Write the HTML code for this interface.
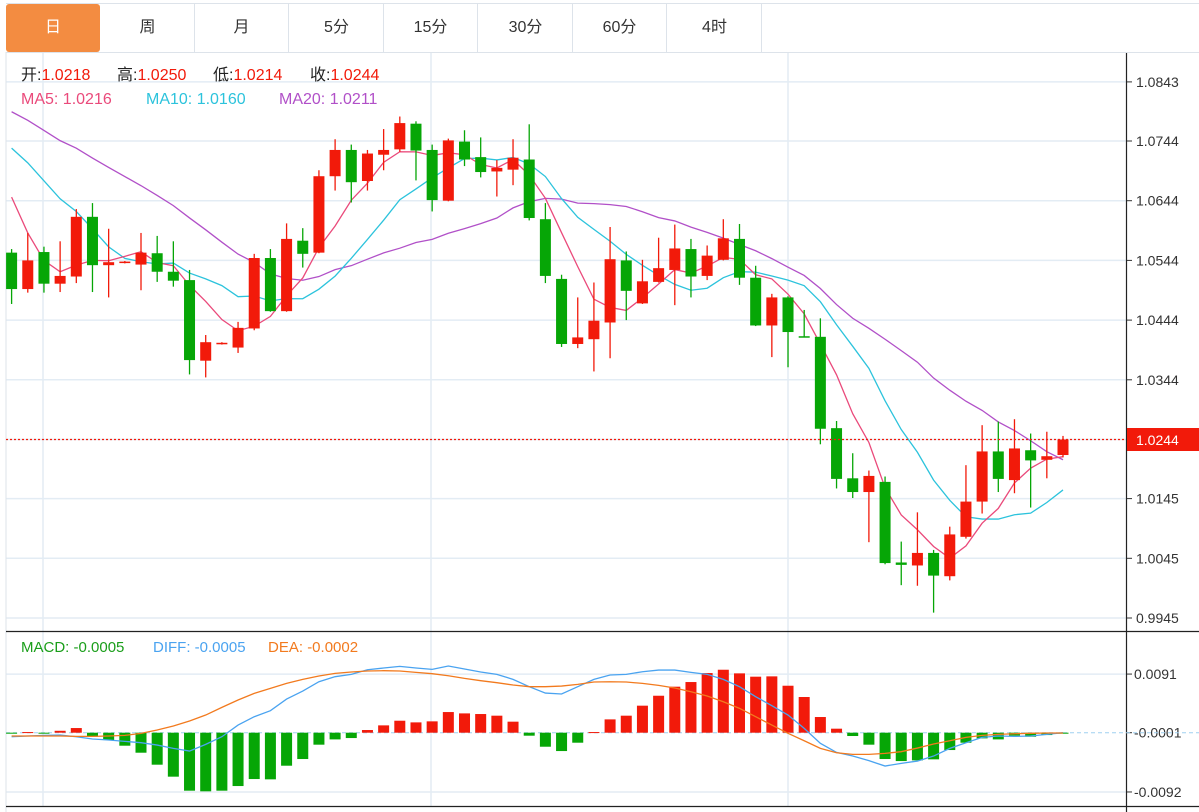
<!DOCTYPE html>
<html><head><meta charset="utf-8">
<style>
html,body{margin:0;padding:0;background:#fff;width:1199px;height:812px;overflow:hidden;font-family:"Liberation Sans","Noto Sans CJK SC",sans-serif;}
#tabs{position:absolute;left:6px;top:3px;width:1193px;height:48px;border-top:1px solid #dde3ea;border-bottom:1px solid #dde3ea;}
.tab{position:absolute;top:0;height:48px;width:94px;line-height:48px;text-align:center;font-size:16px;color:#333;border-right:1px solid #dde3ea;box-sizing:border-box;}
.tab.active{background:#f38c41;color:#fff;border-radius:3px;border-right:none;}
svg{position:absolute;left:0;top:0;}
</style></head><body>
<div id="tabs">
<div class="tab active" style="left:0">日</div>
<div class="tab" style="left:95px">周</div>
<div class="tab" style="left:189px">月</div>
<div class="tab" style="left:284px">5分</div>
<div class="tab" style="left:378px">15分</div>
<div class="tab" style="left:473px">30分</div>
<div class="tab" style="left:567px">60分</div>
<div class="tab" style="left:662px">4时</div>
</div>
<svg id="chart" width="1199" height="812"></svg>
<script>
const opens=[1.0557,1.0496,1.0558,1.0505,1.0517,1.0617,1.0536,1.0540,1.0537,1.0556,1.0525,1.0511,1.0376,1.0404,1.0398,1.0430,1.0548,1.0459,1.0577,1.0557,1.0685,1.0729,1.0677,1.0721,1.0730,1.0773,1.0729,1.0644,1.0743,1.0717,1.0693,1.0696,1.0713,1.0613,1.0513,1.0404,1.0412,1.0440,1.0544,1.0472,1.0508,1.0528,1.0563,1.0518,1.0545,1.0580,1.0515,1.0435,1.0482,1.0417,1.0416,1.0263,1.0179,1.0156,1.0173,1.0038,1.0033,1.0054,1.0015,1.0081,1.0140,1.0224,1.0176,1.0226,1.0210,1.0218];
const highs=[1.0563,1.0590,1.0567,1.0576,1.0630,1.0640,1.0597,1.0543,1.0590,1.0585,1.0576,1.0528,1.0419,1.0407,1.0441,1.0555,1.0563,1.0606,1.0598,1.0695,1.0747,1.0738,1.0729,1.0764,1.0785,1.0777,1.0738,1.0748,1.0762,1.0750,1.0712,1.0747,1.0772,1.0640,1.0520,1.0482,1.0507,1.0600,1.0559,1.0545,1.0582,1.0604,1.0580,1.0569,1.0613,1.0605,1.0535,1.0488,1.0484,1.0461,1.0447,1.0275,1.0221,1.0192,1.0182,1.0073,1.0122,1.0059,1.0098,1.0201,1.0268,1.0274,1.0278,1.0254,1.0257,1.0250];
const lows=[1.0471,1.0490,1.0490,1.0491,1.0506,1.0491,1.0482,1.0539,1.0494,1.0508,1.0500,1.0353,1.0348,1.0403,1.0389,1.0427,1.0458,1.0458,1.0532,1.0556,1.0661,1.0641,1.0661,1.0695,1.0726,1.0678,1.0626,1.0643,1.0702,1.0683,1.0651,1.0670,1.0611,1.0506,1.0399,1.0397,1.0358,1.0380,1.0444,1.0471,1.0507,1.0469,1.0482,1.0511,1.0544,1.0503,1.0434,1.0382,1.0365,1.0415,1.0236,1.0162,1.0146,1.0072,1.0035,1.0000,0.9999,0.9954,1.0008,1.0078,1.0120,1.0156,1.0154,1.0130,1.0179,1.0214];
const closes=[1.0496,1.0544,1.0505,1.0518,1.0617,1.0536,1.0541,1.0542,1.0557,1.0525,1.0510,1.0377,1.0407,1.0406,1.0431,1.0548,1.0459,1.0580,1.0555,1.0685,1.0729,1.0675,1.0723,1.0729,1.0774,1.0728,1.0645,1.0745,1.0713,1.0692,1.0699,1.0716,1.0615,1.0518,1.0404,1.0415,1.0443,1.0546,1.0493,1.0509,1.0531,1.0564,1.0517,1.0552,1.0581,1.0515,1.0435,1.0482,1.0424,1.0416,1.0262,1.0178,1.0156,1.0183,1.0037,1.0034,1.0054,1.0016,1.0085,1.0140,1.0224,1.0178,1.0229,1.0209,1.0216,1.0244];
const priorCloses=[1.0830,1.0845,1.0860,1.0870,1.0865,1.0855,1.0850,1.0860,1.0855,1.0850,1.0790,1.0805,1.0820,1.0830,1.0825,1.0844,1.0735,1.0613,1.0562];
const priceTicks=[1.0843,1.0744,1.0644,1.0544,1.0444,1.0344,1.0244,1.0145,1.0045,0.9945];
const macdHist=[-0.0001,0.0001,-0.00005,0.0003,0.00073,-0.00063,-0.00115,-0.00204,-0.00314,-0.00502,-0.0069,-0.0091,-0.0092,-0.0091,-0.00837,-0.00727,-0.00732,-0.00518,-0.00413,-0.00188,-0.00105,-0.00084,0.00042,0.00115,0.00188,0.00162,0.00178,0.00324,0.00303,0.00293,0.00267,0.00173,-0.00047,-0.0022,-0.00288,-0.00157,0.0001,0.00209,0.00267,0.00424,0.0058,0.00722,0.00795,0.00936,0.00988,0.00931,0.00879,0.00884,0.00737,0.0056,0.00246,0.00063,-0.00052,-0.00188,-0.00413,-0.00445,-0.00434,-0.00418,-0.00272,-0.00157,-0.00089,-0.00105,-0.00047,-0.00063,-0.00037,-0.0001];
const diffLine=[-0.00063,-0.00052,-0.00042,-0.00037,-0.00063,-0.00099,-0.00115,-0.00136,-0.00157,-0.00194,-0.00246,-0.00288,-0.00183,-0.00063,0.0012,0.00251,0.00345,0.00528,0.00654,0.008,0.00879,0.00915,0.00988,0.01015,0.01041,0.01015,0.00994,0.01046,0.00999,0.00952,0.00915,0.00837,0.00722,0.00622,0.00607,0.00722,0.00837,0.00905,0.00915,0.00957,0.00983,0.00983,0.00947,0.00915,0.00837,0.00722,0.00565,0.00424,0.00277,0.00068,-0.00167,-0.00309,-0.00366,-0.00439,-0.00523,-0.00481,-0.00445,-0.00366,-0.00246,-0.00157,-0.00073,-0.00052,-0.00058,-0.00052,-0.00026,0];
const deaLine=[-0.00052,-0.00052,-0.00052,-0.00052,-0.00058,-0.00058,-0.00052,-0.00042,-0.0001,0.00042,0.00105,0.00183,0.00277,0.00397,0.00513,0.00617,0.00696,0.00774,0.00837,0.00889,0.00931,0.00952,0.00968,0.00973,0.00968,0.00947,0.00926,0.00894,0.00852,0.00816,0.00785,0.00748,0.00722,0.00722,0.00732,0.00758,0.00795,0.008,0.00795,0.00774,0.00743,0.00701,0.00643,0.00575,0.00486,0.00382,0.00251,0.0012,-0.0001,-0.00126,-0.00246,-0.00314,-0.0034,-0.0034,-0.00324,-0.00298,-0.00241,-0.00178,-0.00126,-0.00073,-0.00042,-0.00026,-0.00016,-0.0001,-0.00005,-0.00005];
const macdTickValues=[0.0092,0,-0.0093];
const macdTickLabels=['0.0091','-0.0001','-0.0092'];

const NS='http://www.w3.org/2000/svg';
const svg=document.getElementById('chart');
function mk(tag,attrs,parent){const e=document.createElementNS(NS,tag);for(const k in attrs)e.setAttribute(k,attrs[k]);(parent||svg).appendChild(e);return e;}
const X0=11.6, STEP=(1063-11.6)/65;
const xAt=i=>X0+STEP*i;
const yP=p=>439.5-(p-1.0244)*5970;
const yM=v=>732.7-v*6373;
const RED='#f21a0a', GREEN='#06a606';

const grid=mk('g',{});


[43,431,788].forEach(x=>mk('line',{x1:x,y1:53,x2:x,y2:806,stroke:'#e3ecf4','stroke-width':1.5},grid));
priceTicks.forEach(p=>mk('line',{x1:6,y1:yP(p),x2:1126,y2:yP(p),stroke:'#e3ecf4','stroke-width':1.5},grid));
macdTickValues.forEach(v=>{if(v!==0)mk('line',{x1:6,y1:yM(v),x2:1126,y2:yM(v),stroke:'#e3ecf4','stroke-width':1.5},grid);});
mk('line',{x1:6,y1:52,x2:6,y2:812,stroke:'#dde3ea'});
mk('line',{x1:6,y1:631.5,x2:1199,y2:631.5,stroke:'#222','stroke-width':1.2});
mk('line',{x1:6,y1:806.5,x2:1199,y2:806.5,stroke:'#222','stroke-width':1.2});
mk('line',{x1:1126.5,y1:53,x2:1126.5,y2:812,stroke:'#222','stroke-width':1.2});

const ax=mk('g',{});


priceTicks.forEach(p=>{
  if(Math.abs(p-1.0244)<1e-6)return;
  mk('line',{x1:1127,y1:yP(p),x2:1132,y2:yP(p),stroke:'#333'},ax);
  const t=mk('text',{x:1136,y:yP(p)+5,'font-size':14,fill:'#333'},ax);t.textContent=p.toFixed(4);
});
const max=mk('g',{});


macdTickValues.forEach((v,k)=>{
  mk('line',{x1:1127,y1:yM(v),x2:1132,y2:yM(v),stroke:'#333'},max);
  const t=mk('text',{x:1134,y:yM(v)+5,'font-size':14,fill:'#333'},max);t.textContent=macdTickLabels[k];
});

function ma(n){const all=priorCloses.concat(closes);const off=priorCloses.length;return closes.map((c,i)=>{let s=0;for(let k=0;k<n;k++)s+=all[off+i-k];return s/n;});}
[[20,'#b150c8','ma20-line'],[10,'#2cc3dc','ma10-line'],[5,'#ea4a7b','ma5-line']].forEach(([n,col,name])=>{
  const v=ma(n);
  const pl=mk('polyline',{points:v.map((p,i)=>xAt(i)+','+yP(p)).join(' '),fill:'none',stroke:col,'stroke-width':1.3});
  
  
});

const cg=mk('g',{});


closes.forEach((c,i)=>{
  const o=opens[i],up=c>=o,col=up?RED:GREEN,x=xAt(i);
  const g=mk('g',{},cg);
  
  
  mk('line',{x1:x,y1:yP(highs[i]),x2:x,y2:yP(lows[i]),stroke:col,'stroke-width':1.3},g);
  const t=yP(Math.max(o,c)),b=yP(Math.min(o,c));
  mk('rect',{x:x-5.5,y:t,width:11,height:Math.max(b-t,1.5),fill:col},g);
});

mk('line',{x1:6,y1:439.5,x2:1126,y2:439.5,stroke:'#f21a0a','stroke-width':1.2,'stroke-dasharray':'2,2'});
const lp=mk('g',{});


mk('rect',{x:1127,y:428,width:72,height:23,fill:'#f21a0a'},lp);
const lpt=mk('text',{x:1136,y:445,'font-size':14,fill:'#fff'},lp);lpt.textContent='1.0244';

mk('line',{x1:6,y1:732.7,x2:1199,y2:732.7,stroke:'#9fd0f0','stroke-dasharray':'4,3'});
const mg=mk('g',{});


macdHist.forEach((v,i)=>{
  const x=xAt(i),y0=yM(0),y1=yM(v);
  const r=mk('rect',{x:x-5.5,y:Math.min(y0,y1),width:11,height:Math.max(Math.abs(y1-y0),1),fill:v>=0?RED:GREEN},mg);
  
  
});
[[diffLine,'#4aa3f0','diff-line'],[deaLine,'#f27a1e','dea-line']].forEach(([arr,col,name])=>{
  const pl=mk('polyline',{points:arr.map((v,i)=>xAt(i)+','+yM(v)).join(' '),fill:'none',stroke:col,'stroke-width':1.3});
  
  
});

function legend(y,size,items,name){
  const g=mk('g',{});
  
  
  items.forEach(([x,lab,lc,val,vc])=>{
    const t=mk('text',{x:x,y:y,'font-size':size},g);
    const a=mk('tspan',{fill:lc},t);a.textContent=lab;
    const b=mk('tspan',{fill:vc},t);b.textContent=val;
  });
}
legend(80,16,[[21,'开:','#222','1.0218','#f21a0a'],[117,'高:','#222','1.0250','#f21a0a'],[213,'低:','#222','1.0214','#f21a0a'],[310,'收:','#222','1.0244','#f21a0a']],'ohlc-legend');
legend(104,16,[[21,'MA5: ','#ea4a7b','1.0216','#ea4a7b'],[146,'MA10: ','#2cc3dc','1.0160','#2cc3dc'],[279,'MA20: ','#b150c8','1.0211','#b150c8']],'ma-legend');
legend(652,15,[[21,'MACD: ','#1a9e1a','-0.0005','#1a9e1a'],[153,'DIFF: ','#4aa3f0','-0.0005','#4aa3f0'],[268,'DEA: ','#f27a1e','-0.0002','#f27a1e']],'macd-legend');
</script>
</body></html>
